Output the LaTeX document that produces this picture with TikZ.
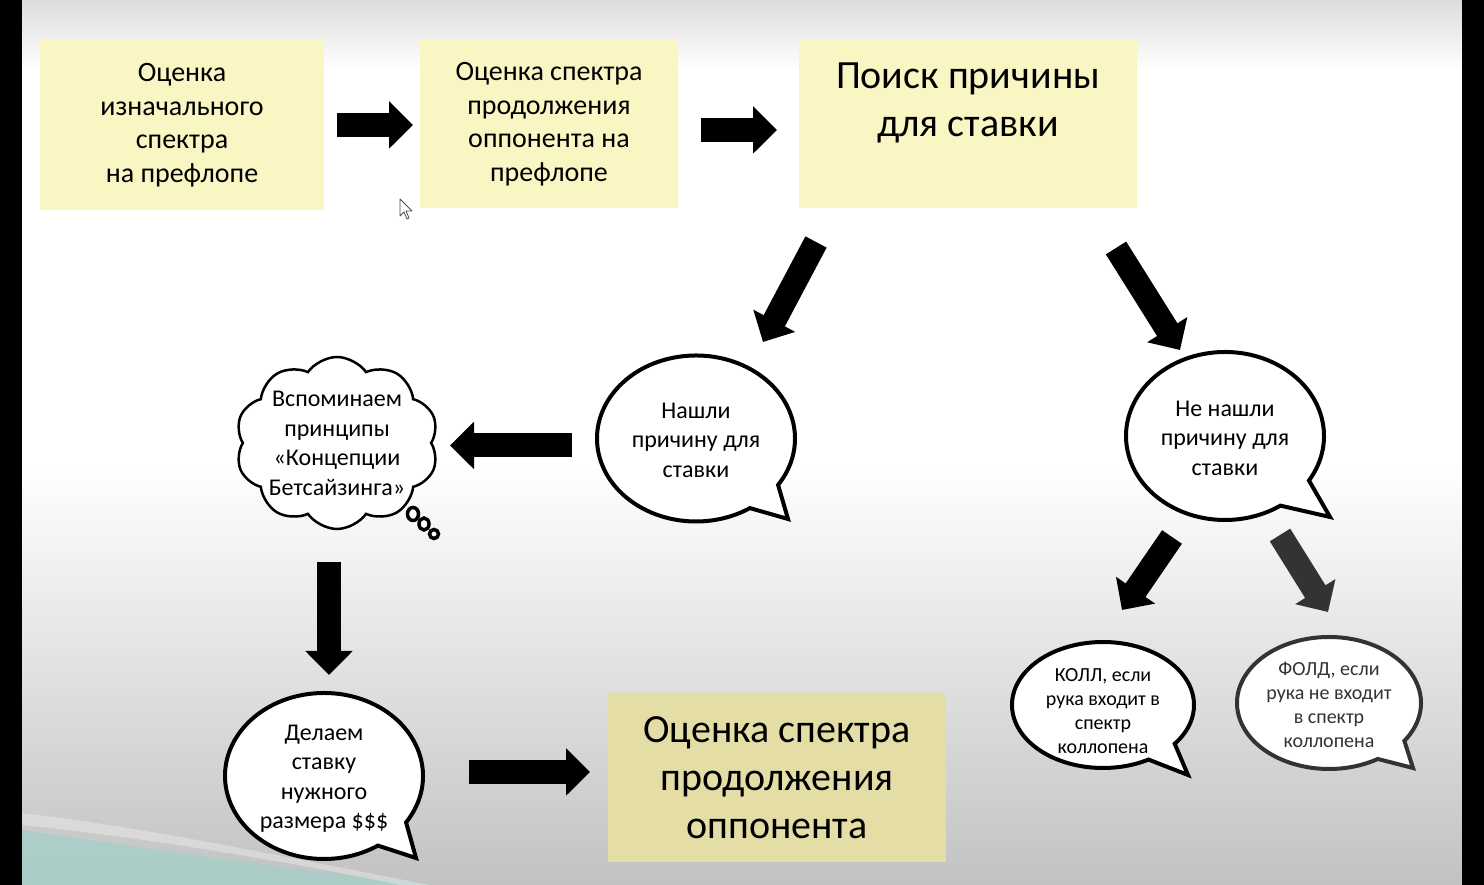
\documentclass[tikz,border=0pt]{standalone}
\usepackage{fontspec}
\setmainfont{Carlito}
\usetikzlibrary{arrows.meta,shapes.geometric,shapes.symbols,calc}
\definecolor{boxyellow}{HTML}{FAF6C4}
\definecolor{boxolive}{HTML}{E4DEA6}
\definecolor{darkgr}{HTML}{333333}
\definecolor{bgtop}{HTML}{DCDCDC}
\definecolor{bgbot}{HTML}{C2C2C2}
\definecolor{swooshcol}{HTML}{A6D0C8}
\newcommand\speechbubble[8]{%
  \draw[line width=4pt, draw=#8, fill=white, line join=miter]
    ($(#1)+(#4:#2 and #3)$) arc[start angle=#4, end angle={#5+360}, x radius=#2, y radius=#3]
    -- ($(#1)+(#6,#7)$) -- cycle;}
\begin{document}
\begin{tikzpicture}[x=1pt,y=1pt,
  boxstyle/.style={rectangle, inner sep=0pt, align=center, text=black},
  barrow/.style={line width=24pt, draw=black, -{Triangle[width=46pt,length=24pt]}},
  fbig/.style={font=\fontsize{28}{33.5}\selectfont},
  fhuge/.style={font=\fontsize{40}{48}\selectfont},
  fmid/.style={font=\fontsize{24}{29.5}\selectfont},
  fsmall/.style={font=\fontsize{20}{24}\selectfont},
  btext/.style={align=center, inner sep=0pt}]
\useasboundingbox (0,0) rectangle (1484,885);
% background
\fill[white] (0,0) rectangle (1484,885);
\shade[top color=bgtop, bottom color=white] (22,815) rectangle (1462,885);
\shade[top color=white, bottom color=bgbot] (22,0) rectangle (1462,420);
\fill[swooshcol, opacity=0.8] (22,0) -- (22,55) .. controls (120,40) and (300,15) .. (430,0) -- cycle;
\fill[white, opacity=0.3] (22,72) .. controls (150,57) and (300,25) .. (430,0) -- (400,0) .. controls (280,25) and (140,48) .. (22,60) -- cycle;
\fill[black] (0,0) rectangle (22,885);
\fill[black] (1462,0) rectangle (1484,885);

% top boxes
\node[boxstyle, fbig, fill=boxyellow, minimum width=284pt, minimum height=170pt] (box1) at (182,760)
  {Оценка\\изначального\\спектра\\на префлопе};
\node[boxstyle, fbig, fill=boxyellow, minimum width=258pt, minimum height=168pt] (box2) at (549,761)
  {Оценка спектра\\продолжения\\оппонента на\\префлопе};
\node[boxstyle, fhuge, fill=boxyellow, minimum width=338pt, minimum height=168pt] (box3) at (968,761)
  {Поиск причины\\для ставки\\\mbox{}};
\node[boxstyle, fhuge, fill=boxolive, minimum width=338pt, minimum height=169pt] (box4) at (777,107.5)
  {Оценка спектра\\продолжения\\оппонента};

% cursor
\draw[line width=0.8pt, draw=black!70, fill=white, line join=round]
  (400,686) -- (400,669) -- (404,673) -- (407,666) -- (409,667) -- (406,674) -- (412,674) -- cycle;

% speech bubbles
\coordinate (c1) at (696,446.5);
\coordinate (c2) at (1225,449);
\coordinate (c4) at (324,109);
\coordinate (c5) at (1103,180);
\coordinate (c6) at (1329,182);
\speechbubble{c1}{99}{83}{-34}{-57}{92}{-80.5}{black}
\speechbubble{c2}{99}{84}{-32}{-56}{105}{-81}{black}
\speechbubble{c4}{99}{83}{-34}{-57}{92}{-82}{black}
\speechbubble{c5}{91}{63}{-38}{-60}{85}{-70}{black}
\speechbubble{c6}{92}{66}{-35}{-58}{84}{-65}{darkgr}
\node[btext, fmid] (b1) at (696,445) {Нашли\\причину для\\ставки};
\node[btext, fmid] (b2) at (1225,447) {Не нашли\\причину для\\ставки};
\node[btext, fmid] (b4) at (324,106.5) {Делаем\\ставку\\нужного\\размера \$\$\$};
\node[btext, fsmall] (b5) at (1103,174) {КОЛЛ, если\\рука входит в\\спектр\\коллопена};
\node[btext, fsmall, text=darkgr] (b6) at (1329,180) {ФОЛД, если\\рука не входит\\в спектр\\коллопена};

% cloud
\node[cloud, draw=black, fill=white, line width=2.5pt, cloud puffs=10, cloud puff arc=110,
  minimum width=203pt, minimum height=172pt, inner sep=0pt] (cloudshape) at (337,442) {};
\node[btext, fmid] (cloudtext) at (337,441.5) {Вспоминаем\\принципы\\«Концепции\\Бетсайзинга»};
\draw[line width=3.5pt, fill=white] (413,371) ellipse[x radius=5.5, y radius=6.5];
\draw[line width=3.5pt, fill=white] (424,361) ellipse[x radius=5, y radius=6];
\draw[line width=3.5pt, fill=white] (434,351) circle[radius=4.5];

% arrows
\coordinate (a1s) at (337,760);  \coordinate (a1e) at (413,760);
\coordinate (a2s) at (701,755);  \coordinate (a2e) at (777,755);
\coordinate (a3s) at (816,643);  \coordinate (a3e) at (763,543);
\coordinate (a4s) at (1116,637); \coordinate (a4e) at (1180,535);
\coordinate (a5s) at (572,439.5); \coordinate (a5e) at (450,439.5);
\coordinate (a6s) at (329,323);  \coordinate (a6e) at (329,210);
\coordinate (a7s) at (469,113);  \coordinate (a7e) at (590,113);
\coordinate (a8s) at (1172,348); \coordinate (a8e) at (1122,275);
\coordinate (a9s) at (1280,350); \coordinate (a9e) at (1328,273);
\draw[barrow] (a1s) -- (a1e);
\draw[barrow] (a2s) -- (a2e);
\draw[barrow] (a3s) -- (a3e);
\draw[barrow] (a4s) -- (a4e);
\draw[barrow] (a5s) -- (a5e);
\draw[barrow] (a6s) -- (a6e);
\draw[barrow] (a7s) -- (a7e);
\draw[barrow] (a8s) -- (a8e);
\draw[barrow, draw=darkgr, fill=darkgr] (a9s) -- (a9e);
\end{tikzpicture}
\end{document}
